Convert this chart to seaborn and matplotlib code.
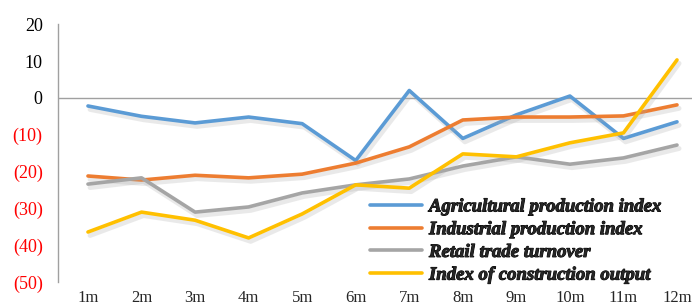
import matplotlib
matplotlib.use('Agg')
import matplotlib.pyplot as plt
import matplotlib.patheffects as pe
from matplotlib.font_manager import FontProperties
import seaborn as sns
import pandas as pd

months = ['1m', '2m', '3m', '4m', '5m', '6m', '7m', '8m', '9m', '10m', '11m', '12m']
agricultural = [-2.2, -5.0, -6.8, -5.2, -7.0, -17.0, 2.0, -11.0, -4.6, 0.5, -11.0, -6.5]
industrial = [-21.2, -22.3, -21.0, -21.7, -20.7, -17.7, -13.3, -6.0, -5.2, -5.2, -4.9, -1.9]
retail = [-23.4, -21.7, -31.0, -29.6, -25.8, -23.6, -22.0, -18.5, -16.0, -18.0, -16.3, -12.8]
construction = [-36.4, -31.0, -33.2, -38.0, -31.5, -23.6, -24.5, -15.2, -16.0, -12.2, -9.5, 10.3]

series_names = ['Agricultural production index', 'Industrial production index',
                'Retail trade turnover', 'Index of construction output']
colors = ['#5B9BD5', '#ED7D31', '#A5A5A5', '#FFC000']

rows = []
for name, vals in zip(series_names, [agricultural, industrial, retail, construction]):
    for i, v in enumerate(vals):
        rows.append({'pos': i + 1, 'value': v, 'series': name})
df = pd.DataFrame(rows)

sns.set_theme(style='white')
plt.rcParams['font.family'] = ['Liberation Serif', 'DejaVu Serif']

fig = plt.figure(figsize=(6.92, 3.06), dpi=100)
ax = fig.add_axes([0.0838, 0.078, 0.9162, 0.843])

sns.lineplot(data=df, x='pos', y='value', hue='series', palette=colors,
             hue_order=series_names, linewidth=2.6, ax=ax, legend=False)

shadow = [pe.SimpleLineShadow(offset=(1.5, -2.5), shadow_color='#aaaaaa', alpha=0.25, linewidth=3.5),
          pe.Normal()]
for line in ax.get_lines():
    line.set_path_effects(shadow)

ax.axhline(0, color='#A0A0A0', linewidth=1.0, zorder=1)

ax.set_xlim(0.44, 12.28)
ax.set_ylim(-50, 20)
ax.set_xticks(range(1, 13))
ax.set_xticklabels(months)
yt = list(range(-50, 21, 10))
ax.set_yticks(yt)
ax.set_yticklabels([f'({abs(v)})' if v < 0 else str(v) for v in yt])
for lbl, v in zip(ax.get_yticklabels(), yt):
    lbl.set_color('red' if v < 0 else 'black')

ax.tick_params(axis='y', length=0, pad=11, labelsize=13)
ax.tick_params(axis='x', length=0, pad=6, labelsize=12)
ax.set_xlabel('')
ax.set_ylabel('')

for side in ['top', 'right', 'bottom']:
    ax.spines[side].set_visible(False)
ax.spines['left'].set_color('#A0A0A0')
ax.spines['left'].set_linewidth(1.0)

# legend text: bold italic serif (faked bolder with a thin stroke)
leg_font = FontProperties(family='Liberation Serif', style='italic', weight='bold', size=13.5)
handles = [plt.Line2D([0], [0], color=c, lw=2.6) for c in colors]
leg = ax.legend(handles, series_names, loc='upper left', bbox_to_anchor=(0.492, 0.325),
                frameon=False, handlelength=2.8, handletextpad=0.35, labelspacing=0.3,
                borderpad=0, borderaxespad=0, prop=leg_font)
for t in leg.get_texts():
    t.set_path_effects([pe.withStroke(linewidth=0.7, foreground='black')])

fig.savefig('out.png', dpi=100)
